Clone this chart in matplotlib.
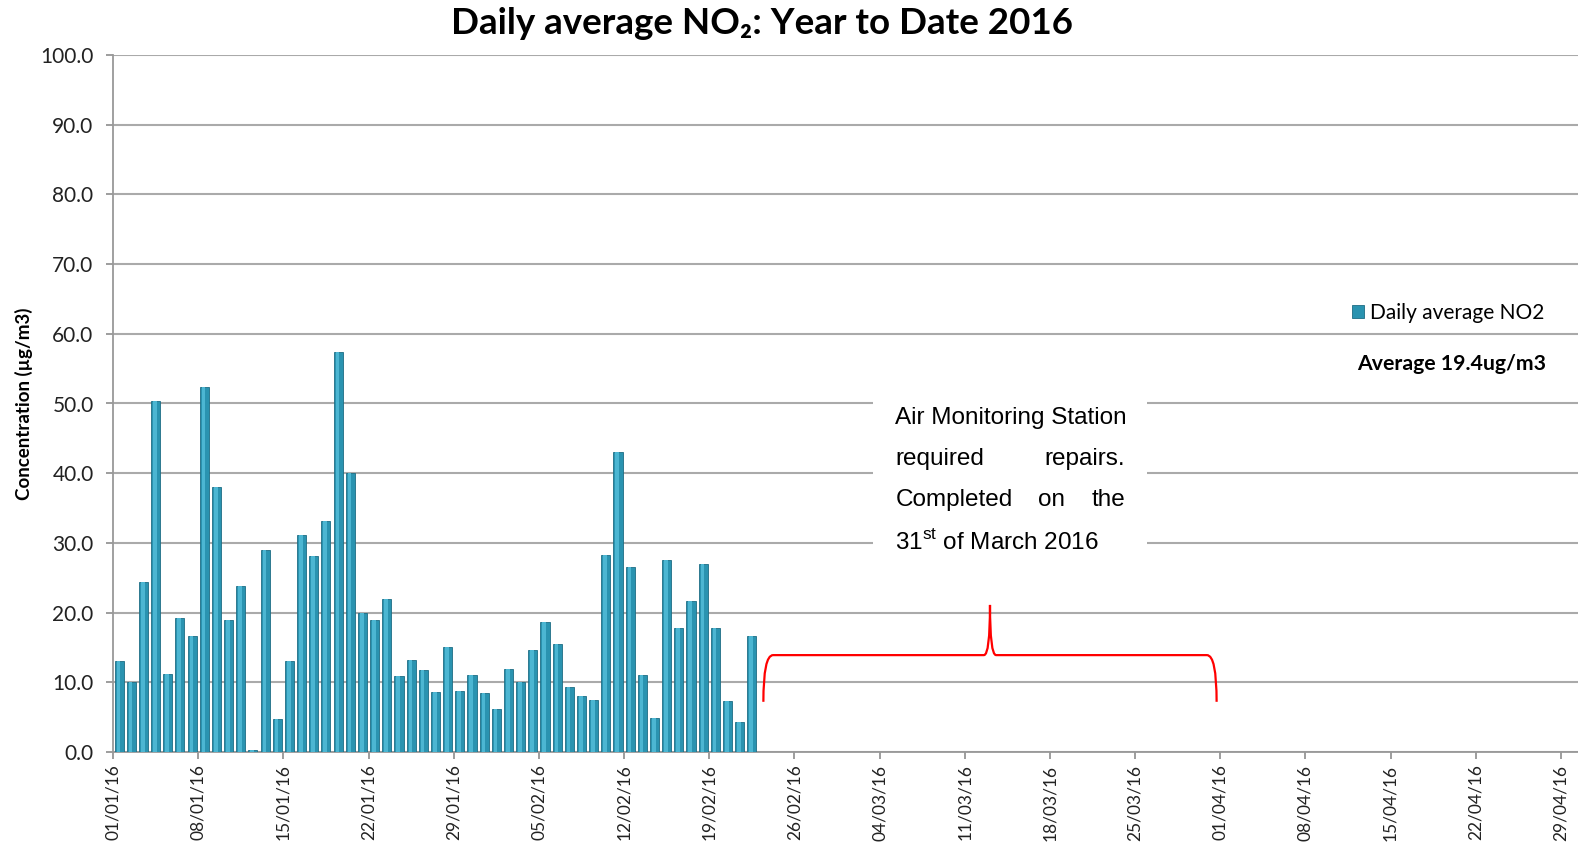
import matplotlib
matplotlib.use('Agg')
import matplotlib.pyplot as plt
from matplotlib.path import Path
from matplotlib.patches import PathPatch, Rectangle

# daily average NO2, 01/01/16 .. 22/02/16 (ug/m3)
no2_values = [13.1, 10.1, 24.4, 50.3, 11.2, 19.2, 16.6, 52.3, 38.0, 19.0,
              23.8, 0.3, 29.0, 4.8, 13.1, 31.2, 28.1, 33.2, 57.4, 40.1,
              20.0, 19.0, 21.9, 10.9, 13.2, 11.7, 8.6, 15.0, 8.7, 11.0,
              8.5, 6.1, 11.9, 10.0, 14.6, 18.6, 15.5, 9.3, 8.0, 7.5,
              28.2, 43.0, 26.5, 11.0, 4.9, 27.5, 17.8, 21.6, 27.0, 17.8,
              7.3, 4.3, 16.6]
tick_labels = ['01/01/16', '08/01/16', '15/01/16', '22/01/16', '29/01/16',
               '05/02/16', '12/02/16', '19/02/16', '26/02/16', '04/03/16',
               '11/03/16', '18/03/16', '25/03/16', '01/04/16', '08/04/16',
               '15/04/16', '22/04/16', '29/04/16']
n_days = 120
repair_end_day = 90.4   # end of the repair period (~31/03)

plt.rcParams['font.family'] = ['Lato', 'DejaVu Sans']
plt.rcParams['mathtext.fontset'] = 'custom'
plt.rcParams['mathtext.rm'] = 'Liberation Sans'

fig = plt.figure(figsize=(15.78, 8.47), dpi=100)
ax = fig.add_axes([113 / 1578, 95 / 847, (1578 - 113) / 1578, 697 / 847])

x = [i + 0.5 for i in range(len(no2_values))]
ax.bar(x, no2_values, width=0.75, color='#2a93b0', edgecolor='#1d6d84',
       linewidth=0.6, zorder=3, label='Daily average NO2')
# lighter highlight strip to mimic the cylinder shading
ax.bar([v - 0.06 for v in x], no2_values, width=0.3, color='#4cb6d2',
       linewidth=0, zorder=4)

ax.set_xlim(0, 120.4)
ax.set_ylim(0, 100)
ax.set_yticks(range(0, 101, 10))
ax.set_yticklabels(['%.1f' % v for v in range(0, 101, 10)], fontsize=15,
                   color='#222222')
ax.set_xticks(range(0, n_days, 7))
ax.set_xticklabels(tick_labels, rotation=90, fontsize=12.5, color='#222222')
ax.tick_params(axis='both', length=5, color='#8c8c8c', width=1.2)
ax.tick_params(axis='y', pad=9)
ax.tick_params(axis='x', pad=4)
ax.grid(axis='y', color='#aaaaaa', linewidth=1.5, zorder=0)
for s in ['top', 'right']:
    ax.spines[s].set_visible(False)
for s in ['left', 'bottom']:
    ax.spines[s].set_color('#999999')
    ax.spines[s].set_linewidth(1.3)

ax.set_ylabel('Concentration (µg/m3)', fontsize=13.5, fontweight='bold',
              labelpad=5)
fig.text(762 / 1578, 1 - 23 / 847, 'Daily average NO₂: Year to Date 2016',
         fontsize=26.5, fontweight='bold', ha='center', va='center')

leg = ax.legend(loc='center left', bbox_to_anchor=(1342 / 1578, 1 - 313 / 847),
                bbox_transform=fig.transFigure, frameon=False, fontsize=15,
                handlelength=0.55, handleheight=0.55, handletextpad=0.3,
                borderpad=0)
fig.text(1452 / 1578, 1 - 364 / 847, 'Average 19.4ug/m3', fontsize=15.3,
         fontweight='bold', ha='center', va='center')

# white box behind the note
ax.add_patch(Rectangle((62.5, 28.55), 22.5, 22.0, facecolor='white',
                       edgecolor='none', zorder=5))
tk = dict(fontsize=17.5, family='Liberation Sans', va='center', zorder=6)
ax.text(64.3, 47.9, 'Air Monitoring Station', ha='left', **tk)
ax.text(64.3, 42.0, 'required', ha='left', **tk)
ax.text(83.2, 42.0, 'repairs.', ha='right', **tk)
ax.text(64.3, 36.1, 'Completed', ha='left', **tk)
ax.text(77.1, 36.1, 'on', ha='center', **tk)
ax.text(83.2, 36.1, 'the', ha='right', **tk)
ax.text(64.3, 30.2, r'31$^{\mathrm{st}}$ of March 2016', ha='left', **tk)

# red brace over the missing period
x0 = len(no2_values) + 0.45
x1 = repair_end_day + 0.3
xm = (x0 + x1) / 2
yb, yh, yp = 7.2, 13.9, 21.1
verts = [(x0, yb), (x0, yh), (x0 + 0.8, yh),
         (xm - 0.5, yh), (xm, yh), (xm, yp),
         (xm, yh), (xm + 0.5, yh),
         (x1 - 0.8, yh), (x1, yh), (x1, yb)]
codes = [Path.MOVETO, Path.CURVE3, Path.CURVE3,
         Path.LINETO, Path.CURVE3, Path.CURVE3,
         Path.CURVE3, Path.CURVE3,
         Path.LINETO, Path.CURVE3, Path.CURVE3]
ax.add_patch(PathPatch(Path(verts, codes), facecolor='none', edgecolor='red',
                       linewidth=1.6, zorder=6))

fig.savefig('out.png', dpi=100)
